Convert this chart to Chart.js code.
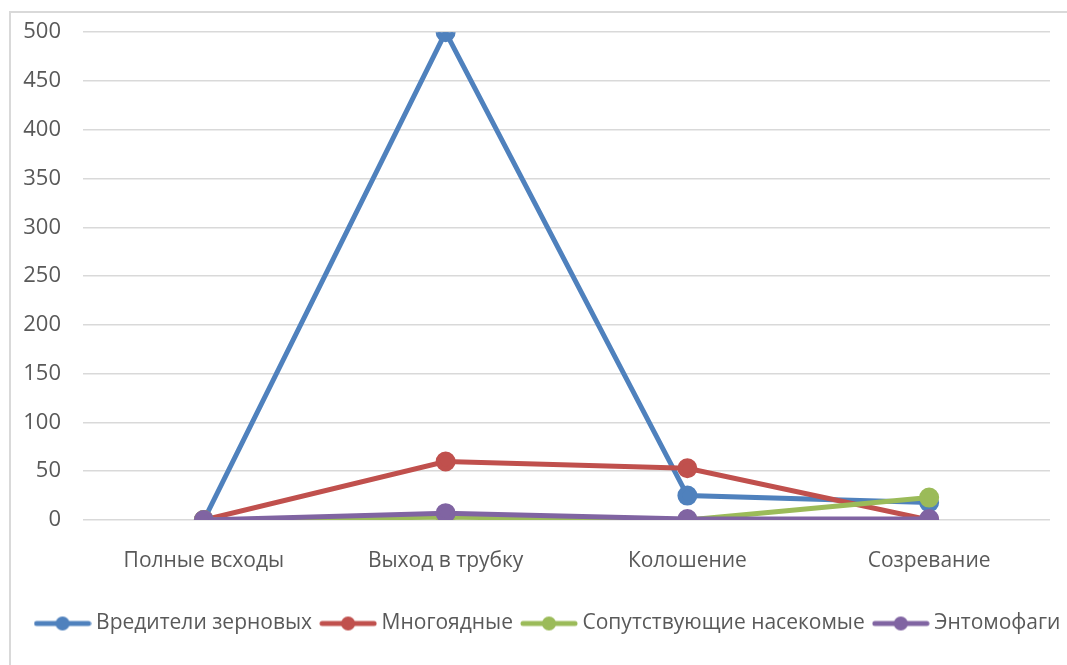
<!DOCTYPE html>
<html>
<head>
<meta charset="utf-8">
<script src="https://cdn.jsdelivr.net/npm/chart.js@4/dist/chart.umd.min.js"></script>
<style>
    html, body {margin: 0; padding: 0; background: #ffffff; overflow: hidden;}
    #frame {
        position: absolute; left: 9px; top: 11px; width: 1200px; height: 700px;
        border-left: 2px solid #d9d9d9; border-top: 2px solid #d9d9d9;
    }
    #wrap {position: absolute; left: 0; top: -3px; width: 1100px; height: 668px;}
</style>
</head>
<body>
<div id="frame"></div>
<div id="wrap"><canvas id="chart_pests"></canvas></div>
<script>
const stages = ['Полные всходы', 'Выход в трубку', 'Колошение', 'Созревание'];
const grainPests = [0, 500, 25, 18];
const polyphagous = [0, 60, 53, 0];
const companions = [0, 3, 0, 23];
const entomophages = [0, 7, 1, 1];
const yTicks = [0, 50, 100, 150, 200, 250, 300, 350, 400, 450, 500];

const textColor = '#595959';
const fontFamily = '"Open Sans", "Liberation Sans", sans-serif';

// small line with a dot in the middle, used as legend marker
function legendMark(color) {
    const c = document.createElement('canvas');
    c.width = 58;
    c.height = 16;
    const ctx = c.getContext('2d');
    ctx.strokeStyle = color;
    ctx.lineWidth = 5;
    ctx.lineCap = 'round';
    ctx.beginPath();
    ctx.moveTo(3, 8);
    ctx.lineTo(55, 8);
    ctx.stroke();
    ctx.fillStyle = color;
    ctx.beginPath();
    ctx.arc(29, 8, 7, 0, Math.PI * 2);
    ctx.fill();
    return c;
}

function series(label, values, color, order) {
    return {
        label           : label,
        data            : values,
        order           : order,
        borderColor     : color,
        backgroundColor : color,
        borderWidth     : 5,
        pointRadius     : 7.5,
        pointHoverRadius: 7.5,
        pointStyle      : 'circle',
        legendStyle     : legendMark(color),
        tension         : 0,
    };
}

// later series are painted on top, like in the original
const datasets = [
    series('Вредители зерновых', grainPests, '#4f81bd', 3),
    series('Многоядные', polyphagous, '#c0504d', 2),
    series('Сопутствующие насекомые', companions, '#9bbb59', 1),
    series('Энтомофаги', entomophages, '#8064a2', 0),
];

new Chart(document.getElementById('chart_pests'), {
    type   : 'line',
    data   : {labels: stages, datasets: datasets},
    options: {
        responsive         : true,
        maintainAspectRatio: false,
        animation          : false,
        layout             : {padding: {top: 10, right: 0, bottom: 21, left: 0}},
        plugins            : {
            legend : {
                position: 'bottom',
                labels  : {
                    color          : textColor,
                    font           : {family: fontFamily, size: 21},
                    usePointStyle  : true,
                    pointStyleWidth: 46,
                    padding        : 13,
                    generateLabels : chart => chart.data.datasets.map((ds, i) => ({
                        text        : ds.label,
                        fillStyle   : ds.borderColor,
                        strokeStyle : ds.borderColor,
                        pointStyle  : ds.legendStyle,
                        fontColor   : textColor,
                        hidden      : false,
                        datasetIndex: i,
                    })),
                },
            },
            tooltip: {enabled: false},
        },
        scales             : {
            y    : {
                min            : 0,
                max            : 500,
                afterBuildTicks: scale => {
                    scale.ticks = yTicks.map(v => ({value: v}));
                },
                afterFit       : scale => {
                    scale.width = 83;
                },
                border         : {display: false},
                grid           : {color: '#d9d9d9', lineWidth: 1.5, drawTicks: false},
                ticks          : {color: textColor, font: {family: fontFamily, size: 22}, padding: 22},
            },
            // empty axis on the right, only keeps the plot narrower than the legend
            right: {
                position: 'right',
                afterFit: scale => {
                    scale.width = 50;
                },
                border  : {display: false},
                grid    : {display: false},
                ticks   : {display: false},
            },
            x    : {
                offset  : true,
                afterFit: scale => {
                    scale.height = 80;
                },
                border  : {display: false},
                grid    : {display: false, drawTicks: false},
                ticks   : {color: textColor, font: {family: fontFamily, size: 21}, padding: 28, maxRotation: 0},
            },
        },
    },
});
</script>
</body>
</html>
